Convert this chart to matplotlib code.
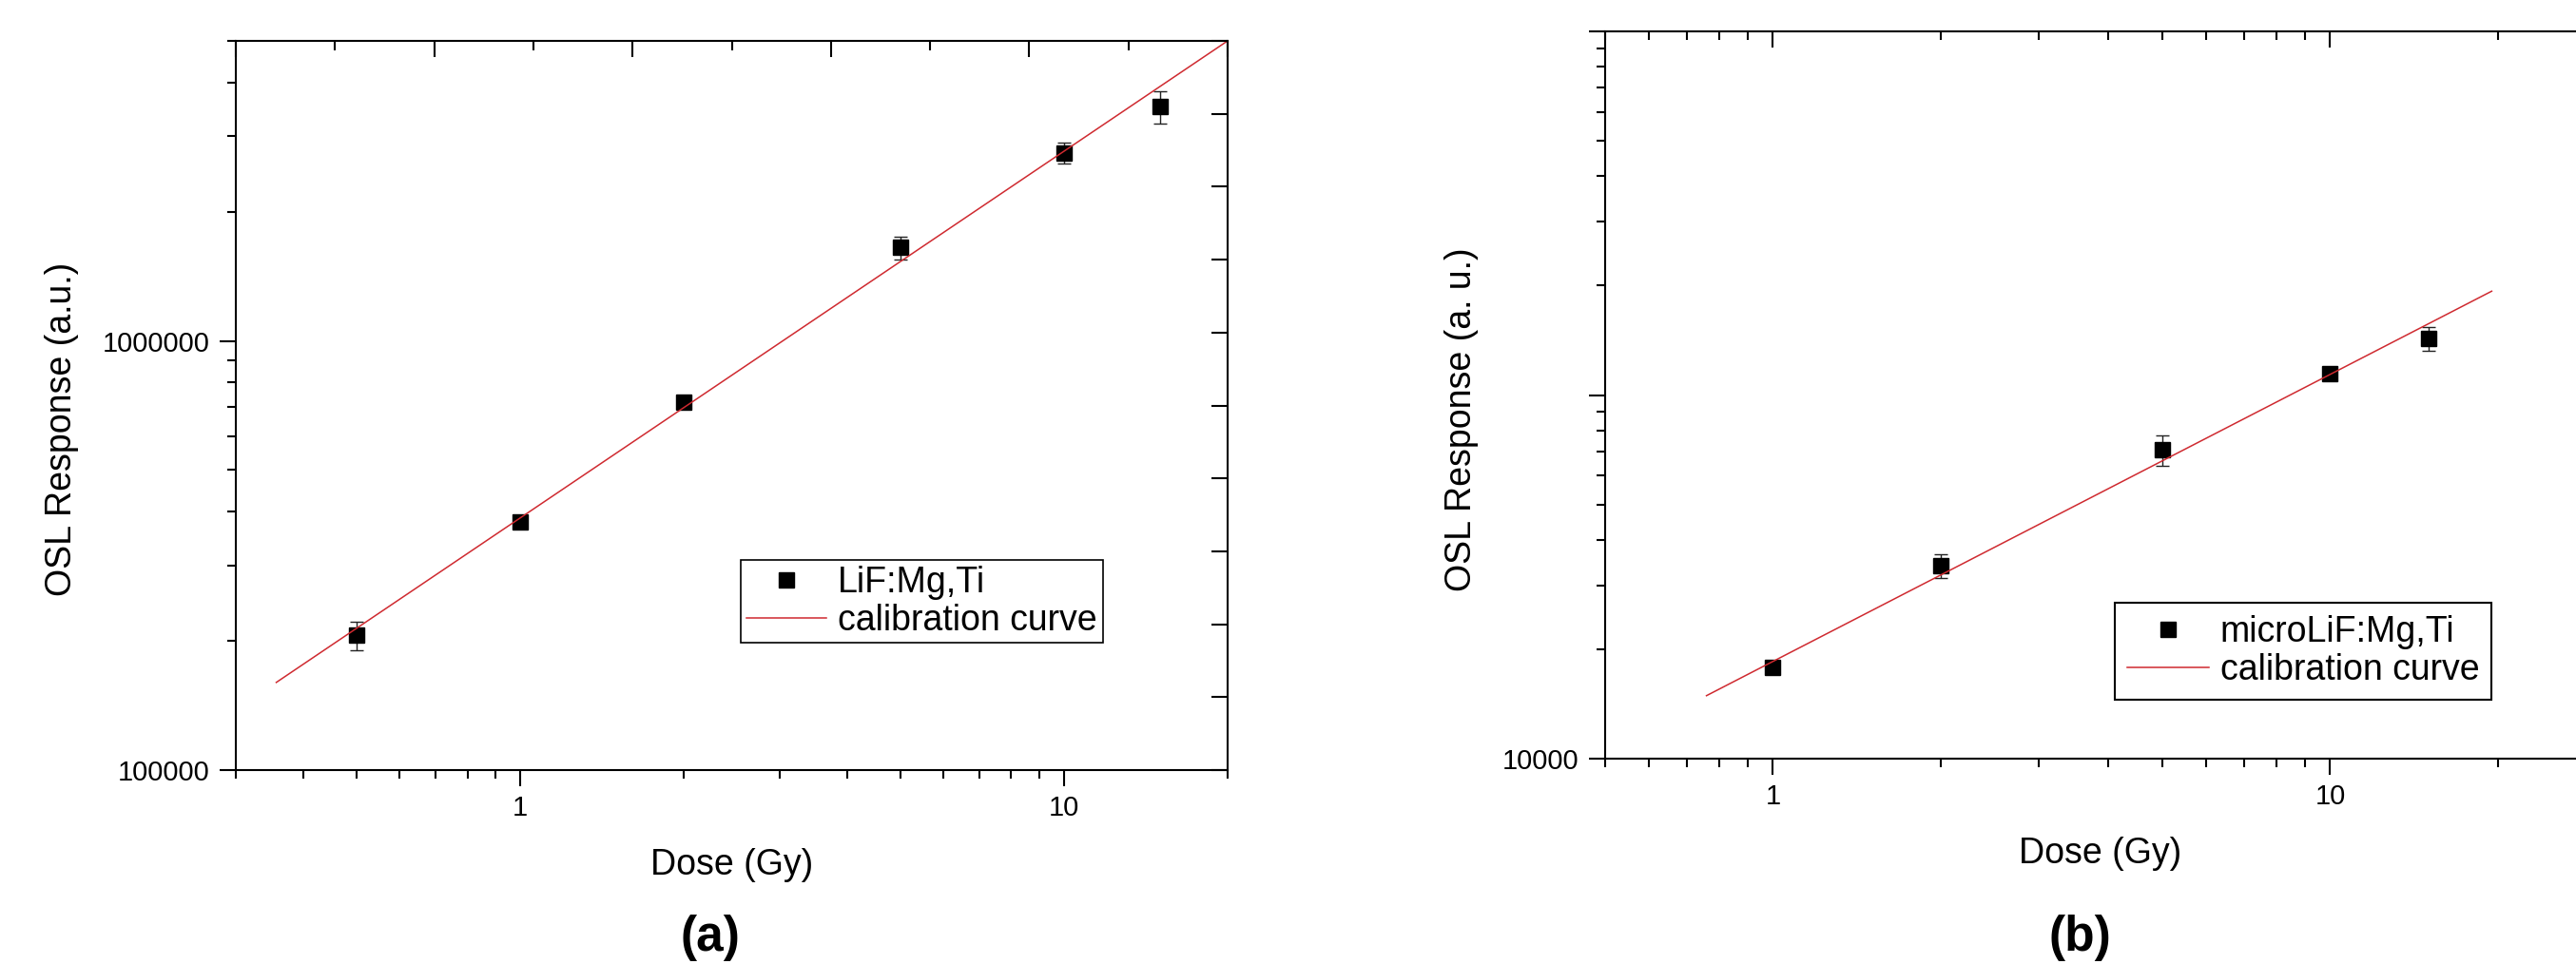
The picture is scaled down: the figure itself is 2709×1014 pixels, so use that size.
import matplotlib
matplotlib.use("Agg")
import matplotlib.pyplot as plt
from matplotlib.ticker import LogLocator, NullFormatter, MultipleLocator

plt.rcParams['font.family'] = ['Liberation Sans', 'DejaVu Sans']

# (a) LiF:Mg,Ti
dose_a = [0.5, 1, 2, 5, 10, 15]
osl_a = [2.06e5, 3.79e5, 7.21e5, 1.65e6, 2.74e6, 3.51e6]
err_a = [1.6e4, 1.1e4, 1.0e4, 1.0e5, 1.5e5, 3.0e5]
calib_dose_a = [0.356, 20]
calib_osl_a = [1.6e5, 5.0e6]

# (b) microLiF:Mg,Ti
dose_b = [1, 2, 5, 10, 15]
osl_b = [1.786e4, 3.39e4, 7.06e4, 1.147e5, 1.431e5]
err_b = [5e2, 2.5e3, 6.6e3, 3e3, 1.1e4]
calib_dose_b = [0.76, 19.5]
calib_osl_b = [1.49e4, 1.93e5]

x_ticks = [1, 10]
x_ticklabels = ['1', '10']
y_ticks_a = [1e5, 1e6]
y_ticklabels_a = ['100000', '1000000']
y_ticks_b = [1e4, 1e5, 1e6]
y_ticklabels_b = ['10000', '', '']

RED = '#cf2a30'
W, H = 2709, 1014


def px_box(left, top, right, bottom):
    return [left / W, (H - bottom) / H, (right - left) / W, (bottom - top) / H]


def main_axes(fig, pos, xlim, ylim, yticks, yticklabels):
    ax = fig.add_axes(pos)
    ax.set_xscale('log')
    ax.set_yscale('log')
    ax.set_xlim(*xlim)
    ax.set_ylim(*ylim)
    ax.set_xticks(x_ticks)
    ax.set_xticklabels(x_ticklabels)
    ax.set_yticks(yticks)
    ax.set_yticklabels(yticklabels)
    ax.xaxis.set_minor_locator(LogLocator(base=10, subs=range(2, 10), numticks=20))
    ax.yaxis.set_minor_locator(LogLocator(base=10, subs=range(2, 10), numticks=20))
    ax.xaxis.set_minor_formatter(NullFormatter())
    ax.yaxis.set_minor_formatter(NullFormatter())
    for s in ax.spines.values():
        s.set_linewidth(1.5)
    ax.tick_params(which='both', direction='out', width=1.5, top=False, right=False,
                   labelsize=21)
    ax.tick_params(which='major', length=12)
    ax.tick_params(which='minor', length=6.5)
    ax.tick_params(axis='x', which='major', pad=6.7)
    ax.tick_params(axis='y', which='major', pad=8)
    return ax


fig = plt.figure(figsize=(W / 100, H / 100), dpi=100)

# ---- panel (a)
pos_a = px_box(248, 43, 1291, 810)
ax = main_axes(fig, pos_a, (0.3, 20), (1e5, 5e6), y_ticks_a, y_ticklabels_a)
ax.errorbar(dose_a, osl_a, yerr=err_a, fmt='none', ecolor='#222222',
            elinewidth=1, capsize=5, capthick=1)
ax.plot(dose_a, osl_a, 's', color='black', ms=12, ls='none', label='LiF:Mg,Ti')
ax.plot(calib_dose_a, calib_osl_a, color=RED, lw=1.1, label='calibration curve')
ax.set_xlabel('Dose (Gy)', fontsize=27, va='center')
ax.xaxis.set_label_coords(0.5, -0.1304)
ax.set_ylabel('OSL Response (a.u.)', fontsize=27, va='center')
ax.yaxis.set_label_coords(-0.1750, 0.468)
leg = ax.legend(loc='upper left', bbox_to_anchor=(0.509, 0.2875), borderaxespad=0,
                fontsize=27, borderpad=0.15, labelspacing=0.1, handlelength=2.24,
                handletextpad=0.34, fancybox=False, framealpha=1, edgecolor='black')
leg.get_frame().set_linewidth(1.2)

# top / right axes of (a): plain evenly spaced ticks
ax2 = fig.add_axes(pos_a, frameon=False)
ax2.set_xlim(0, 10)
ax2.set_ylim(0, 10)
ax2.xaxis.set_major_locator(MultipleLocator(2))
ax2.xaxis.set_minor_locator(MultipleLocator(1))
ax2.yaxis.set_major_locator(MultipleLocator(1))
ax2.yaxis.set_minor_locator(MultipleLocator(1))
ax2.tick_params(which='both', direction='in', width=1.5, bottom=False, left=False,
                top=True, right=True, labelbottom=False, labelleft=False)
ax2.tick_params(which='major', length=12)
ax2.tick_params(which='minor', length=7)

# ---- panel (b)
pos_b = px_box(1688, 33, 2730, 798)
bx = main_axes(fig, pos_b, (0.5, 30), (1e4, 1e6), y_ticks_b, y_ticklabels_b)
bx.errorbar(dose_b, osl_b, yerr=err_b, fmt='none', ecolor='#222222',
            elinewidth=1, capsize=5, capthick=1)
bx.plot(dose_b, osl_b, 's', color='black', ms=12, ls='none', label='microLiF:Mg,Ti')
bx.plot(calib_dose_b, calib_osl_b, color=RED, lw=1.1, label='calibration curve')
bx.set_xlabel('Dose (Gy)', fontsize=27, va='center')
bx.xaxis.set_label_coords(0.5, -0.1307)
bx.set_ylabel('OSL Response (a. u.)', fontsize=27, va='center')
bx.yaxis.set_label_coords(-0.1450, 0.4667)
leg = bx.legend(loc='upper left', bbox_to_anchor=(0.5144, 0.2144), borderaxespad=0,
                fontsize=27, borderpad=0.35, labelspacing=0.1, handlelength=2.3,
                handletextpad=0.3, fancybox=False, framealpha=1, edgecolor='black')
leg.get_frame().set_linewidth(1.5)

# top axis of (b): mirrored log ticks pointing inward
bx2 = fig.add_axes(pos_b, frameon=False)
bx2.set_xscale('log')
bx2.set_xlim(0.5, 30)
bx2.set_xticks(x_ticks)
bx2.xaxis.set_minor_locator(LogLocator(base=10, subs=range(2, 10), numticks=20))
bx2.xaxis.set_minor_formatter(NullFormatter())
bx2.set_yticks([])
bx2.tick_params(which='both', direction='in', width=1.5, bottom=False, top=True,
                labelbottom=False, labeltop=False)
bx2.tick_params(which='major', length=12)
bx2.tick_params(which='minor', length=6.5)

# panel letters, kept just inside the bottom edge
fig.text(747 / W, (H - 1000) / H, '(a)', fontsize=37, fontweight='bold',
         ha='center', va='baseline')
fig.text(2187 / W, (H - 1000) / H, '(b)', fontsize=37, fontweight='bold',
         ha='center', va='baseline')

fig.savefig('out.png', dpi=100)
